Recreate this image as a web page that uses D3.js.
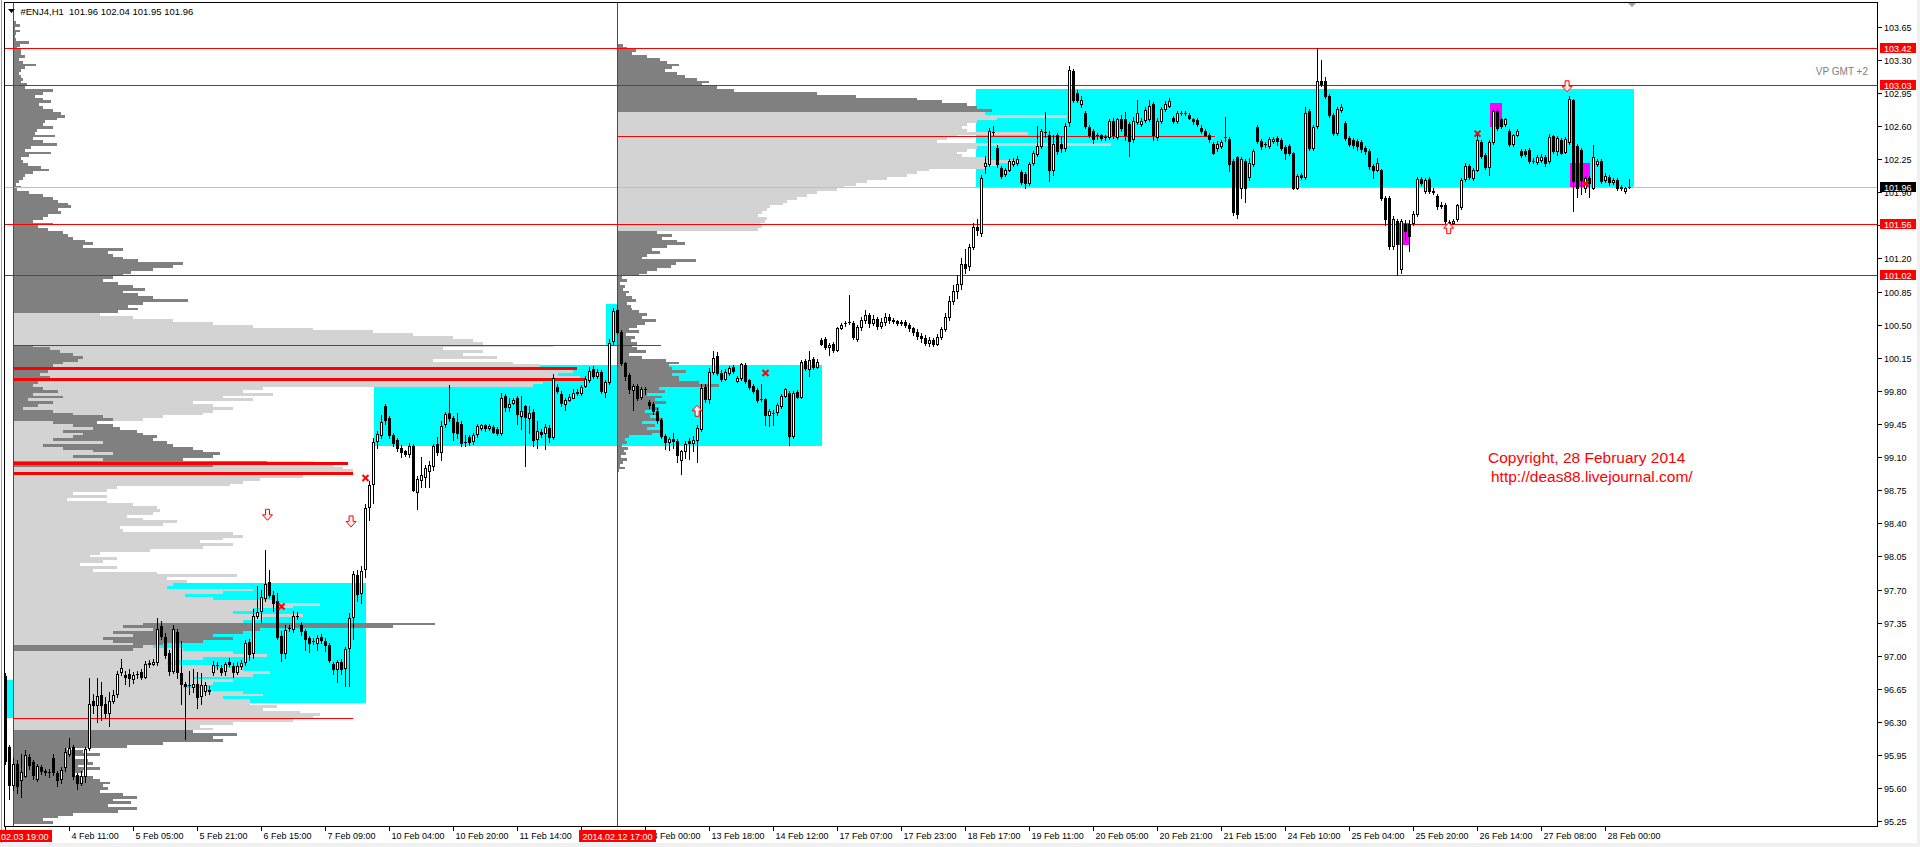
<!DOCTYPE html>
<html><head><meta charset="utf-8">
<script src="https://cdn.jsdelivr.net/npm/d3@7"></script>
<style>
html,body{margin:0;padding:0;background:#fff;overflow:hidden;}
svg{display:block;}
text{font-family:"Liberation Sans",Arial,sans-serif;}
</style></head><body>
<svg id="c" width="1920" height="847"></svg>
<script>
// ---------------- DATA ----------------
const symbolTitle = "#ENJ4,H1  101.96 102.04 101.95 101.96";

const candleOpen = [
96.79,96.04,95.63,95.86,95.69,95.73,95.93,95.88,95.70,95.82,
95.78,95.77,95.92,95.76,95.70,95.82,95.96,96.04,95.74,95.66,
95.73,96.02,96.52,96.48,96.58,96.49,96.39,96.52,96.60,96.83,
96.80,96.81,96.75,96.81,96.83,96.78,96.92,96.91,96.93,97.31,
97.20,97.03,96.84,97.25,96.82,96.70,96.69,96.67,96.70,96.57,
96.63,96.64,96.83,96.90,96.87,96.84,96.93,96.89,96.83,96.89,
96.93,97.15,97.03,97.42,97.47,97.61,97.78,97.64,97.58,97.21,
97.03,97.29,97.28,97.42,97.33,97.26,97.19,97.16,97.14,97.20,
97.16,97.11,96.91,96.86,96.93,96.87,97.08,97.41,97.85,97.66,
97.92,98.57,98.82,99.27,99.33,99.64,99.51,99.33,99.28,99.20,
99.16,99.13,99.22,98.73,98.86,98.89,98.95,99.01,99.24,99.15,
99.45,99.57,99.51,99.47,99.45,99.26,99.31,99.27,99.34,99.41,
99.44,99.41,99.42,99.40,99.35,99.75,99.63,99.67,99.72,99.53,
99.64,99.51,99.58,99.29,99.37,99.35,99.41,99.31,99.84,99.77,
99.66,99.70,99.73,99.79,99.78,99.85,99.91,100.03,99.96,100.00,
99.79,99.89,100.33,100.66,100.42,100.09,99.97,99.81,99.85,99.74,
99.82,99.68,99.66,99.59,99.49,99.32,99.26,99.29,99.27,99.07,
99.16,99.27,99.25,99.28,99.40,99.84,99.71,100.00,100.17,99.99,
99.93,99.99,100.05,99.90,99.94,100.07,99.91,99.85,99.81,99.71,
99.71,99.54,99.57,99.58,99.64,99.75,99.78,99.32,99.79,99.74,
100.12,100.03,100.14,100.05,100.34,100.35,100.26,100.30,100.23,100.47,
100.52,100.53,100.52,100.35,100.48,100.55,100.60,100.52,100.56,100.49,
100.53,100.58,100.55,100.54,100.52,100.53,100.50,100.46,100.42,100.38,
100.36,100.31,100.34,100.30,100.37,100.45,100.58,100.75,100.86,100.93,
101.14,101.12,101.32,101.53,101.47,102.18,102.20,102.54,102.37,102.16,
102.09,102.14,102.20,102.21,102.11,102.09,102.00,102.21,102.30,102.39,
102.54,102.51,102.13,102.50,102.41,102.37,102.64,103.18,102.95,102.83,
102.74,102.59,102.55,102.50,102.50,102.48,102.48,102.65,102.48,102.67,
102.67,102.62,102.46,102.64,102.62,102.66,102.67,102.83,102.48,102.65,
102.78,102.81,102.69,102.65,102.74,102.74,102.72,102.67,102.66,102.58,
102.55,102.51,102.41,102.37,102.39,102.48,102.46,102.23,102.27,101.95,
102.23,102.06,102.20,102.59,102.44,102.41,102.39,102.44,102.47,102.45,
102.38,102.39,102.31,101.95,102.08,102.06,102.76,102.37,102.60,103.08,
103.08,102.92,102.72,102.53,102.77,102.63,102.47,102.45,102.44,102.43,
102.37,102.34,102.18,102.14,102.13,101.84,101.84,101.33,101.60,101.09,
101.56,101.56,101.58,101.67,102.04,101.91,102.04,101.91,101.86,101.75,
101.77,101.59,101.58,101.62,101.74,102.04,102.18,102.05,102.14,102.43,
102.29,102.17,102.43,102.76,102.67,102.62,102.55,102.41,102.51,102.34,
102.34,102.35,102.23,102.22,102.24,102.27,102.23,102.49,102.34,102.45,
102.33,102.43,102.87,102.39,102.35,101.95,102.05,101.95,102.20,102.23,
102.03,102.06,102.01,102.03,101.96,101.91,101.96];

const candleHigh = [
96.82,96.06,95.92,95.90,95.96,96.00,95.96,95.90,95.86,95.85,
95.80,95.80,95.96,95.78,95.82,96.02,96.13,96.06,95.76,95.78,
96.04,96.76,96.60,96.76,96.72,96.56,96.62,96.64,96.84,96.97,
96.84,96.86,96.83,96.84,96.86,96.94,96.95,96.97,97.40,97.37,
97.24,97.06,97.33,97.28,97.16,96.72,96.84,96.86,96.83,96.82,
96.72,96.68,96.94,96.93,96.90,96.93,96.98,96.92,96.93,96.96,
97.17,97.18,97.49,97.74,97.69,98.12,97.91,97.68,97.66,97.26,
97.32,97.33,97.47,97.46,97.36,97.28,97.21,97.19,97.22,97.23,
97.19,97.13,96.93,96.96,96.97,97.09,97.45,97.90,97.91,97.95,
98.60,98.85,99.30,99.38,99.54,99.66,99.53,99.35,99.30,99.23,
99.18,99.25,99.24,98.90,99.10,99.02,99.06,99.24,99.31,99.48,
99.58,99.86,99.53,99.57,99.48,99.33,99.33,99.35,99.45,99.45,
99.45,99.45,99.44,99.42,99.78,99.77,99.72,99.73,99.75,99.75,
99.65,99.64,99.61,99.48,99.40,99.45,99.44,99.98,99.87,99.80,
99.72,99.77,99.82,99.82,99.86,99.96,100.05,100.06,100.03,100.02,
99.91,100.35,100.68,100.71,100.44,100.11,99.99,99.87,99.87,99.84,
99.84,99.70,99.68,99.62,99.51,99.34,99.31,99.36,99.29,99.18,
99.27,99.30,99.32,99.44,99.87,99.87,100.04,100.22,100.21,100.02,
100.03,100.06,100.07,99.96,100.10,100.09,99.93,99.87,99.83,99.87,
99.73,99.61,99.60,99.67,99.77,99.83,99.80,99.80,99.81,100.13,
100.14,100.22,100.16,100.14,100.36,100.37,100.31,100.32,100.48,100.52,
100.54,100.81,100.54,100.50,100.58,100.65,100.62,100.60,100.58,100.57,
100.62,100.61,100.57,100.55,100.55,100.55,100.52,100.48,100.45,100.41,
100.39,100.37,100.36,100.40,100.48,100.62,100.80,100.92,101.02,101.20,
101.30,101.35,101.58,101.62,102.08,102.28,102.58,102.60,102.40,102.18,
102.16,102.25,102.26,102.28,102.13,102.11,102.22,102.34,102.60,102.57,
102.75,102.55,102.50,102.53,102.48,102.63,103.23,103.20,102.98,102.92,
102.76,102.61,102.57,102.53,102.52,102.51,102.67,102.69,102.69,102.72,
102.75,102.64,102.70,102.88,102.68,102.80,102.87,102.85,102.68,102.80,
102.86,102.90,102.71,102.76,102.76,102.76,102.74,102.69,102.68,102.61,
102.57,102.53,102.43,102.44,102.45,102.70,102.48,102.25,102.28,102.27,
102.25,102.26,102.36,102.61,102.46,102.43,102.48,102.48,102.49,102.47,
102.40,102.41,102.33,102.09,102.10,102.80,102.78,102.61,103.42,103.30,
103.12,102.94,102.74,102.80,102.83,102.65,102.49,102.47,102.46,102.45,
102.39,102.36,102.20,102.26,102.15,101.86,101.86,101.65,101.62,101.62,
101.61,101.61,101.70,102.06,102.06,102.05,102.06,101.95,101.88,101.80,
101.79,101.61,101.62,101.78,102.05,102.21,102.20,102.16,102.50,102.45,
102.31,102.45,102.78,102.78,102.69,102.69,102.57,102.52,102.57,102.36,
102.36,102.37,102.26,102.29,102.30,102.29,102.52,102.51,102.49,102.47,
102.48,102.92,102.89,102.41,102.37,102.07,102.07,102.40,102.25,102.25,
102.10,102.08,102.05,102.05,101.98,101.96,102.04];

const candleLow = [
95.86,95.49,95.58,95.55,95.51,95.72,95.80,95.70,95.68,95.75,
95.74,95.72,95.74,95.62,95.66,95.78,95.94,95.70,95.59,95.63,
95.67,96.00,96.40,96.30,96.32,96.34,96.26,96.50,96.56,96.80,
96.70,96.68,96.71,96.76,96.75,96.76,96.88,96.90,96.90,97.18,
96.98,96.80,96.82,96.76,96.49,96.12,96.60,96.62,96.45,96.49,
96.58,96.60,96.80,96.86,96.80,96.80,96.89,96.78,96.81,96.86,
96.90,96.96,96.98,97.40,97.36,97.58,97.62,97.47,97.18,96.94,
96.98,97.26,97.25,97.39,97.22,97.06,97.04,97.12,97.06,97.14,
97.05,96.93,96.81,96.72,96.81,96.68,96.68,97.18,97.58,97.56,
97.83,98.44,98.62,99.20,99.30,99.45,99.30,99.22,99.16,99.10,
99.11,99.10,98.74,98.55,98.78,98.78,98.78,98.96,99.12,99.07,
99.42,99.48,99.28,99.30,99.22,99.22,99.23,99.24,99.31,99.39,
99.38,99.39,99.35,99.33,99.33,99.59,99.59,99.66,99.45,99.40,
99.01,99.35,99.22,99.20,99.31,99.19,99.26,99.29,99.78,99.64,
99.60,99.69,99.72,99.76,99.76,99.84,99.89,99.94,99.94,99.78,
99.74,99.87,100.30,100.40,100.07,99.92,99.78,99.60,99.70,99.71,
99.77,99.62,99.56,99.46,99.30,99.19,99.17,99.20,99.05,98.92,
99.09,99.08,99.16,99.05,99.38,99.68,99.67,99.98,99.97,99.90,
99.91,99.97,99.99,99.89,99.92,99.88,99.82,99.78,99.68,99.69,
99.44,99.43,99.44,99.54,99.62,99.74,99.23,99.30,99.72,99.72,
100.02,99.96,100.03,100.04,100.28,100.24,100.18,100.21,100.22,100.45,
100.49,100.51,100.35,100.33,100.44,100.52,100.48,100.50,100.45,100.47,
100.50,100.52,100.52,100.50,100.50,100.48,100.43,100.39,100.35,100.32,
100.29,100.27,100.27,100.28,100.35,100.43,100.55,100.72,100.78,100.88,
101.05,101.08,101.30,101.45,101.44,102.10,102.18,102.51,102.17,102.05,
102.07,102.12,102.18,102.19,101.99,101.95,101.98,102.19,102.28,102.37,
102.48,102.02,102.08,102.30,102.33,102.34,102.60,102.85,102.85,102.80,
102.58,102.48,102.42,102.46,102.45,102.45,102.46,102.47,102.46,102.55,
102.45,102.28,102.43,102.62,102.60,102.64,102.65,102.45,102.45,102.63,
102.76,102.80,102.63,102.63,102.72,102.72,102.67,102.62,102.60,102.53,
102.49,102.43,102.30,102.34,102.37,102.44,102.12,101.66,101.63,101.84,
101.80,102.03,102.18,102.42,102.36,102.38,102.37,102.42,102.40,102.35,
102.25,102.29,101.93,101.93,102.04,102.04,102.35,102.35,102.58,103.02,
102.90,102.70,102.50,102.51,102.75,102.45,102.39,102.37,102.35,102.33,
102.30,102.15,102.05,102.12,101.82,101.55,101.30,101.30,101.02,101.05,
101.40,101.28,101.55,101.65,101.98,101.89,101.89,101.88,101.72,101.73,
101.58,101.54,101.56,101.60,101.72,102.02,102.04,102.03,102.12,102.26,
102.15,102.08,102.41,102.56,102.58,102.60,102.39,102.39,102.49,102.27,
102.28,102.21,102.21,102.20,102.22,102.18,102.21,102.32,102.29,102.30,
102.31,102.41,101.70,101.85,101.88,101.90,101.85,101.93,102.18,102.00,
102.01,101.98,101.99,101.92,101.92,101.89,101.95];

const candleClose = [
95.89,95.63,95.86,95.62,95.77,95.95,95.84,95.74,95.83,95.78,
95.77,95.77,95.77,95.69,95.79,95.98,96.03,95.73,95.65,95.73,
96.01,96.49,96.48,96.57,96.48,96.39,96.52,96.59,96.81,96.87,
96.78,96.76,96.80,96.81,96.78,96.91,96.91,96.93,97.28,97.21,
97.01,96.84,97.28,96.83,96.70,96.68,96.69,96.70,96.56,96.69,
96.69,96.63,96.90,96.90,96.83,96.91,96.91,96.83,96.89,96.92,
97.14,97.02,97.42,97.46,97.62,97.76,97.64,97.56,97.20,97.03,
97.27,97.29,97.42,97.42,97.26,97.18,97.14,97.16,97.19,97.17,
97.11,96.95,96.86,96.93,96.86,97.07,97.40,97.86,97.65,97.90,
98.56,98.80,99.26,99.34,99.47,99.49,99.33,99.25,99.20,99.15,
99.13,99.22,98.75,98.87,98.91,98.98,99.02,99.22,99.15,99.43,
99.56,99.51,99.37,99.36,99.25,99.26,99.26,99.33,99.43,99.44,
99.41,99.43,99.37,99.35,99.73,99.63,99.66,99.70,99.56,99.59,
99.52,99.57,99.28,99.38,99.34,99.42,99.31,99.94,99.80,99.67,
99.70,99.74,99.78,99.78,99.84,99.93,100.01,99.96,100.00,99.80,
99.89,100.31,100.64,100.42,100.10,99.96,99.82,99.85,99.73,99.82,
99.82,99.65,99.59,99.49,99.32,99.26,99.29,99.27,99.12,99.16,
99.24,99.25,99.28,99.41,99.83,99.71,100.00,100.15,99.99,99.93,
100.00,100.04,100.01,99.94,100.08,99.90,99.84,99.80,99.70,99.71,
99.54,99.59,99.57,99.65,99.75,99.82,99.32,99.78,99.74,100.11,
100.04,100.13,100.05,100.11,100.30,100.26,100.29,100.23,100.47,100.50,
100.52,100.53,100.37,100.48,100.55,100.60,100.52,100.56,100.49,100.53,
100.58,100.55,100.54,100.52,100.53,100.50,100.46,100.42,100.38,100.36,
100.31,100.34,100.30,100.37,100.45,100.58,100.75,100.86,100.93,101.14,
101.10,101.32,101.53,101.50,102.05,102.21,102.55,102.54,102.20,102.07,
102.14,102.23,102.23,102.25,102.01,102.00,102.20,102.32,102.39,102.55,
102.54,102.14,102.41,102.34,102.37,102.60,103.19,102.88,102.88,102.88,
102.60,102.51,102.46,102.50,102.47,102.48,102.65,102.50,102.67,102.58,
102.50,102.44,102.65,102.74,102.65,102.77,102.81,102.50,102.65,102.78,
102.83,102.86,102.65,102.74,102.74,102.74,102.69,102.65,102.62,102.55,
102.51,102.46,102.32,102.41,102.43,102.48,102.20,101.69,101.67,102.25,
101.95,102.21,102.34,102.44,102.39,102.41,102.46,102.46,102.44,102.37,
102.32,102.31,101.95,102.07,102.06,102.74,102.37,102.59,103.08,103.04,
102.92,102.72,102.53,102.78,102.80,102.47,102.41,102.40,102.39,102.36,
102.34,102.18,102.14,102.21,101.84,101.62,101.33,101.62,101.35,101.60,
101.49,101.44,101.67,102.04,102.00,102.03,101.91,101.90,101.75,101.77,
101.60,101.56,101.60,101.76,102.03,102.18,102.06,102.14,102.45,102.28,
102.17,102.43,102.76,102.58,102.60,102.67,102.41,102.50,102.55,102.29,
102.30,102.23,102.23,102.27,102.27,102.21,102.48,102.34,102.47,102.32,
102.46,102.89,102.02,101.95,102.03,102.05,102.00,102.27,102.23,102.02,
102.07,102.01,102.03,101.94,101.94,101.94,101.96];

// time axis labels (every 16 bars, starting at bar 16)
const timeLabels = ["4 Feb 11:00","5 Feb 05:00","5 Feb 21:00","6 Feb 15:00","7 Feb 09:00",
"10 Feb 04:00","10 Feb 20:00","11 Feb 14:00","12 Feb 08:00","13 Feb 00:00","13 Feb 18:00",
"14 Feb 12:00","17 Feb 07:00","17 Feb 23:00","18 Feb 17:00","19 Feb 11:00","20 Feb 05:00",
"20 Feb 21:00","21 Feb 15:00","24 Feb 10:00","25 Feb 04:00","25 Feb 20:00","26 Feb 14:00",
"27 Feb 08:00","28 Feb 00:00"];
const priceTicks = [103.65,103.30,102.95,102.60,102.25,101.90,101.55,101.20,100.85,100.50,100.15,
99.80,99.45,99.10,98.75,98.40,98.05,97.70,97.35,97.00,96.65,96.30,95.95,95.60,95.25];

// levels
const redLevels = [103.42,103.03,101.56,101.02];
const lastPrice = 101.96;
const vLineBars = [2,153];
const vLineLabels = ["2014.02.03 19:00","2014.02.12 17:00"];

// [barStart, barEnd, priceTop, priceBottom]
const cyanBoxes = [[0.4,2,96.74,96.34],[21,90,97.77,96.50],[92,204,100.07,99.22],[150,153,100.72,100.27],[242.75,407,102.99,101.94]];
const magentaBoxes = [[348,351,101.57,101.34],[371,374,102.84,102.59],[391,396,102.21,101.95]];

// red segments [price, barStart, barEnd]
const thinSegments = [[100.29,2,163.9],[96.34,2,86.9],[102.49,153,302.4]];
const thickSegments = [[100.04,2,142.9],[99.93,2,144.9],[99.04,2,85.6],[98.93,2,86.9]];

// markers [bar, price]
const crossMarks = [[90,98.88],[69,97.52],[190,99.99],[368,102.52],[395,101.99]];
const downArrows = [[65.5,98.49],[86.4,98.42],[390.4,103.02]];
const upArrows = [[172.9,99.59],[360.8,101.52]];

// Volume profile 1 (from 3 Feb), rows of 0.03 starting at 103.74
const vp1Top = 103.74, vpStep = 0.03;
const vp1Dark = [
0,3,7,2,7,3,2,3,16,7,4,8,
8,12,6,10,23,12,8,6,8,10,8,14,12,
40,30,22,30,38,26,30,40,48,52,
44,32,30,40,24,22,42,
20,30,44,18,12,38,16,8,10,
15,28,36,20,12,10,6,3,8,4,16,
30,40,45,55,58,45,48,35,30,20,40,25,35,
50,55,60,72,80,70,110,95,100,110,125,170,160,140,118,110,
100,90,105,120,132,110,125,140,175,130,115,125,105,
0,0,0,0,0,0,0,0,0,0,0,
20,37,47,60,70,65,50,40,30,35,27,37,30,25,20,
30,45,20,50,15,40,25,10,
40,60,90,100,84,100,107,124,130,144,140,154,160,180,190,207,200,170,
254,200,
0,0,0,0,0,0,0,0,0,0,0,0,0,0,0,0,0,0,0,0,0,0,0,0,0,0,0,0,0,0,0,0,0,0,0,0,0,0,0,0,0,0,0,0,0,0,0,0,0,0,0,0,0,0,0,
422,380,247,230,200,220,190,150,130,120,
0,0,0,0,0,0,0,0,0,0,0,0,0,0,0,0,0,0,0,0,0,0,0,0,0,0,0,0,
180,224,200,210,150,114,54,70,87,60,75,80,65,87,70,60,80,87,97,90,95,87,110,124,100,118,95,124,105,60,45,30,40];
const vp1Light = [
0,0,0,0,0,0,0,0,0,0,0,0,0,0,0,0,0,0,0,0,0,0,0,0,0,0,0,0,0,0,0,0,0,0,0,0,0,0,0,0,0,0,0,0,0,0,0,0,0,0,0,0,
0,0,0,0,0,0,0,0,0,0,0,0,0,0,0,0,0,0,0,0,0,0,0,0,0,0,0,0,0,0,0,0,0,0,0,0,0,0,0,0,0,0,0,0,0,0,0,0,0,0,0,0,
87,120,160,200,240,300,360,400,440,460,470,540,
430,470,450,484,420,500,527,540,560,545,567,550,530,520,
250,230,260,210,240,180,200,220,
200,190,150,130,40,60,80,50,70,60,40,90,30,50,80,100,60,90,
300,320,330,340,310,290,247,230,217,
104,94,60,94,54,94,120,144,147,140,114,130,164,150,107,110,220,230,210,187,220,190,137,87,
77,104,90,67,104,80,144,224,154,174,160,154,240,210,172,200,260,307,280,240,220,290,250,230,
130,110,140,100,120,90,100,120,140,170,
220,254,190,160,154,200,230,257,240,180,220,200,170,190,230,250,210,237,237,264,250,287,307,300,280,220,187,200,
0,0,0,0,0,0,0,0,0,0,0,0,0,0,0,0,0,0,0,0,0,0,0,0,0,0,0,0,0,0,0,0,0];

// Volume profile 2 (from 12 Feb 17:00), rows of 0.03 starting at 103.47
const vp2Top = 103.47;
const vp2Vol = [
6,10,19,15,30,
43,50,62,55,48,60,
68,80,92,85,
100,117,200,239,300,325,350,360,375,
368,450,380,360,350,345,
350,411,340,330,320,
494,360,350,340,345,
370,398,380,368,
312,300,290,270,250,239,
227,220,200,190,180,170,166,
153,150,145,141,150,148,143,145,141,
40,55,45,60,68,50,35,43,30,25,
79,59,54,40,30,22,
5,10,3,8,6,
12,9,15,19,10,14,
15,22,30,25,39,28,20,
12,22,9,18,14,20,15,
20,29,12,25,
49,62,52,55,69,55,62,62,82,102,42,48,
30,45,38,49,35,42,28,40,33,46,25,38,30,44,35,
12,8,10,5,11,7,9,4,10,6,3,8,2];
const vp2VAHigh = 102.75, vp2VALow = 101.49;

// ---------------- DRAW ----------------
const svg = d3.select("#c");
const N = candleOpen.length;
const x = d3.scaleLinear().domain([0, 406]).range([5.5, 1629.5]);
const y = d3.scaleLinear().domain([95.25, 103.65]).range([821.3, 26.7]);
const vol = d3.scaleLinear().domain([0, 100]).range([0, 100]);
const RED = "#ff0000", CYAN = "#00ffff", MAG = "#ff00ff", DARK = "#808080", LIGHT = "#d3d3d3";

svg.append("rect").attr("width",1920).attr("height",847).attr("fill","#fff");
svg.append("rect").attr("x",0).attr("y",843).attr("width",1920).attr("height",4).attr("fill","#f0f0f0");
svg.append("rect").attr("x",1917).attr("y",0).attr("width",3).attr("height",847).attr("fill","#f0f0f0");
svg.append("rect").attr("x",1).attr("y",0).attr("width",1).attr("height",843).attr("fill","#a0a0a0");

svg.append("clipPath").attr("id","pc").append("rect").attr("x",5).attr("y",3).attr("width",1872).attr("height",823);
const plot = svg.append("g").attr("clip-path","url(#pc)").attr("shape-rendering","crispEdges");

const rx = v => Math.round(x(v));
const ry = v => Math.round(y(v));

// boxes
function drawBoxes(data, color){
  plot.append("g").selectAll("rect").data(data).join("rect")
    .attr("x", d => rx(d[0])).attr("width", d => rx(d[1]) - rx(d[0]))
    .attr("y", d => ry(d[2])).attr("height", d => ry(d[3]) - ry(d[2]))
    .attr("fill", color);
}
drawBoxes(cyanBoxes, CYAN);
drawBoxes(magentaBoxes, MAG);

// profiles
function drawProfile(baseX, top, light, dark){
  const g = plot.append("g");
  const rows = [];
  for (let k = 0; k < light.length; k++){
    const y0 = ry(top - vpStep*k), y1 = ry(top - vpStep*(k+1));
    const items = [{v:light[k], c:LIGHT},{v:dark[k], c:DARK}].filter(d => d.v > 0).sort((a,b) => b.v - a.v);
    items.forEach(it => rows.push({y:y0, h:Math.max(1, y1-y0), w:Math.round(vol(it.v)), c:it.c}));
  }
  g.selectAll("rect").data(rows).join("rect")
    .attr("x", baseX).attr("y", d => d.y).attr("width", d => d.w).attr("height", d => d.h).attr("fill", d => d.c);
}
drawProfile(13, vp1Top, vp1Light, vp1Dark);
const vp2Light = vp2Vol.map((v,k) => { const c = vp2Top - vpStep*(k+0.5); return (c <= vp2VAHigh && c >= vp2VALow) ? v : 0; });
const vp2Dark = vp2Vol.map((v,k) => vp2Light[k] ? 0 : v);
drawProfile(617, vp2Top, vp2Light, vp2Dark);

// red segments
plot.append("g").selectAll("rect").data(thickSegments).join("rect")
  .attr("x", d => rx(d[1])).attr("width", d => rx(d[2]) - rx(d[1]))
  .attr("y", d => ry(d[0]) - 1).attr("height", 3).attr("fill", RED);
plot.append("g").selectAll("line").data(thinSegments).join("line")
  .attr("x1", d => rx(d[1])).attr("x2", d => rx(d[2]))
  .attr("y1", d => ry(d[0]) + 0.5).attr("y2", d => ry(d[0]) + 0.5)
  .attr("stroke", RED).attr("stroke-width", 1);

// full width levels
plot.append("line").attr("x1",4).attr("x2",1878).attr("y1",ry(lastPrice)+0.5).attr("y2",ry(lastPrice)+0.5).attr("stroke","#c0c0c0");
plot.append("g").selectAll("line").data(redLevels).join("line")
  .attr("x1",4).attr("x2",1878).attr("y1", d => ry(d)+0.5).attr("y2", d => ry(d)+0.5).attr("stroke", RED);
plot.append("g").selectAll("line").data(vLineBars).join("line")
  .attr("x1", d => x(d)).attr("x2", d => x(d)).attr("y1",3).attr("y2",826).attr("stroke", RED);

// candles
const cg = plot.append("g");
const idx = d3.range(N);
cg.selectAll("line.w").data(idx).join("line").attr("class","w")
  .attr("x1", i => x(i)).attr("x2", i => x(i))
  .attr("y1", i => ry(candleHigh[i])).attr("y2", i => ry(candleLow[i]) + 1)
  .attr("stroke","#000");
const bodies = idx.map(i => {
  const o = candleOpen[i], c = candleClose[i];
  return {i, t: ry(Math.max(o,c)), b: ry(Math.min(o,c)), up: c > o};
});
cg.selectAll("line.d").data(bodies.filter(d => d.b - d.t < 1)).join("line").attr("class","d")
  .attr("x1", d => x(d.i) - 1.5).attr("x2", d => x(d.i) + 1.5)
  .attr("y1", d => d.t + 0.5).attr("y2", d => d.t + 0.5).attr("stroke","#000");
cg.selectAll("rect.bear").data(bodies.filter(d => d.b - d.t >= 1 && !d.up)).join("rect").attr("class","bear")
  .attr("x", d => x(d.i) - 1.5).attr("width", 3).attr("y", d => d.t).attr("height", d => d.b - d.t + 1).attr("fill","#000");
cg.selectAll("rect.bull").data(bodies.filter(d => d.b - d.t >= 1 && d.up)).join("rect").attr("class","bull")
  .attr("x", d => x(d.i) - 1).attr("width", 2).attr("y", d => d.t + 0.5).attr("height", d => d.b - d.t)
  .attr("fill","#fff").attr("stroke","#000").attr("stroke-width",1);

// markers
const mg = svg.append("g");
mg.selectAll("path.x").data(crossMarks).join("path").attr("class","x")
  .attr("d", d => { const cx = x(d[0]), cy = y(d[1]); return `M${cx-3},${cy-3}L${cx+3},${cy+3}M${cx+3},${cy-3}L${cx-3},${cy+3}`; })
  .attr("stroke", RED).attr("stroke-width", 2).attr("fill","none");
mg.selectAll("path.dn").data(downArrows).join("path").attr("class","dn")
  .attr("d", d => { const cx = x(d[0]), cy = y(d[1]);
    return `M${cx-2},${cy-5.5}L${cx+2},${cy-5.5}L${cx+2},${cy}L${cx+5},${cy}L${cx},${cy+5.5}L${cx-5},${cy}L${cx-2},${cy}Z`; })
  .attr("fill","#fff0f0").attr("stroke", RED).attr("stroke-width",1);
mg.selectAll("path.up").data(upArrows).join("path").attr("class","up")
  .attr("d", d => { const cx = x(d[0]), cy = y(d[1]);
    return `M${cx-2},${cy+5.5}L${cx+2},${cy+5.5}L${cx+2},${cy}L${cx+5},${cy}L${cx},${cy-5.5}L${cx-5},${cy}L${cx-2},${cy}Z`; })
  .attr("fill","#fff0f0").attr("stroke", RED).attr("stroke-width",1);

// chart texts
svg.append("text").attr("x",1868).attr("y",75).attr("text-anchor","end").attr("font-size",10).attr("fill","#808080").text("VP GMT +2");
svg.append("text").attr("x",1488).attr("y",463).attr("font-size",15.5).attr("fill",RED).text("Copyright, 28 February 2014");
svg.append("text").attr("x",1491).attr("y",482).attr("font-size",15.5).attr("fill",RED).text("http://deas88.livejournal.com/");

// frame
const ax = svg.append("g").attr("shape-rendering","crispEdges");
ax.append("rect").attr("x",4.5).attr("y",2.5).attr("width",1873).attr("height",824).attr("fill","none").attr("stroke","#000");

// right axis
ax.selectAll("line.yt").data(priceTicks).join("line").attr("class","yt")
  .attr("x1",1878).attr("x2",1882).attr("y1", d => ry(d)+0.5).attr("y2", d => ry(d)+0.5).attr("stroke","#000");
ax.selectAll("text.yl").data(priceTicks).join("text").attr("class","yl")
  .attr("x",1884).attr("y", d => ry(d) + 3.5).attr("font-size",9).attr("fill","#000")
  .text(d => d.toFixed(2));
const tagData = redLevels.map(p => ({p, c: RED})).concat([{p:lastPrice, c:"#000"}]);
ax.selectAll("rect.tag").data(tagData).join("rect").attr("class","tag")
  .attr("x",1880).attr("y", d => ry(d.p) - 5).attr("width",36).attr("height",10).attr("fill", d => d.c);
ax.selectAll("text.tag").data(tagData).join("text").attr("class","tag")
  .attr("x",1884).attr("y", d => ry(d.p) + 3.5).attr("font-size",9).attr("fill","#fff").text(d => d.p.toFixed(2));

// bottom axis
const tickBars = d3.range(0, 26).map(k => 16*k);
ax.selectAll("line.xt").data(tickBars).join("line").attr("class","xt")
  .attr("x1", d => x(d)).attr("x2", d => x(d)).attr("y1",827).attr("y2",831).attr("stroke","#000");
const vTags = vLineBars.map((b,k) => ({b, t: vLineLabels[k]}));
// a time label fully hidden under a vertical-line tag is not drawn (as in the terminal)
const xLabels = timeLabels.map((t,k) => ({t, b: 16*(k+1)}))
  .filter(d => !vTags.some(v => x(d.b) + 2 >= x(v.b) - 38.5 && x(d.b) + 54 <= x(v.b) + 38.5));
ax.selectAll("text.xl").data(xLabels).join("text").attr("class","xl")
  .attr("x", d => x(d.b) + 2).attr("y",839).attr("font-size",9).attr("fill","#000").text(d => d.t);
ax.selectAll("rect.vt").data(vTags).join("rect").attr("class","vt")
  .attr("x", d => x(d.b) - 38.5).attr("y",830).attr("width",77).attr("height",12).attr("fill",RED);
ax.selectAll("text.vt").data(vTags).join("text").attr("class","vt")
  .attr("x", d => x(d.b)).attr("y",839.5).attr("text-anchor","middle").attr("font-size",9).attr("fill","#fff").text(d => d.t);

// header
svg.append("path").attr("d","M8,9L15,9L11.5,13Z").attr("fill","#000");
svg.append("text").attr("x",20.5).attr("y",14.5).attr("font-size",9.5).attr("fill","#000").attr("xml:space","preserve").style("white-space","pre").text(symbolTitle);
svg.append("path").attr("d","M1628,3L1636,3L1632,7Z").attr("fill","#a0a0a0");
</script>
</body></html>
